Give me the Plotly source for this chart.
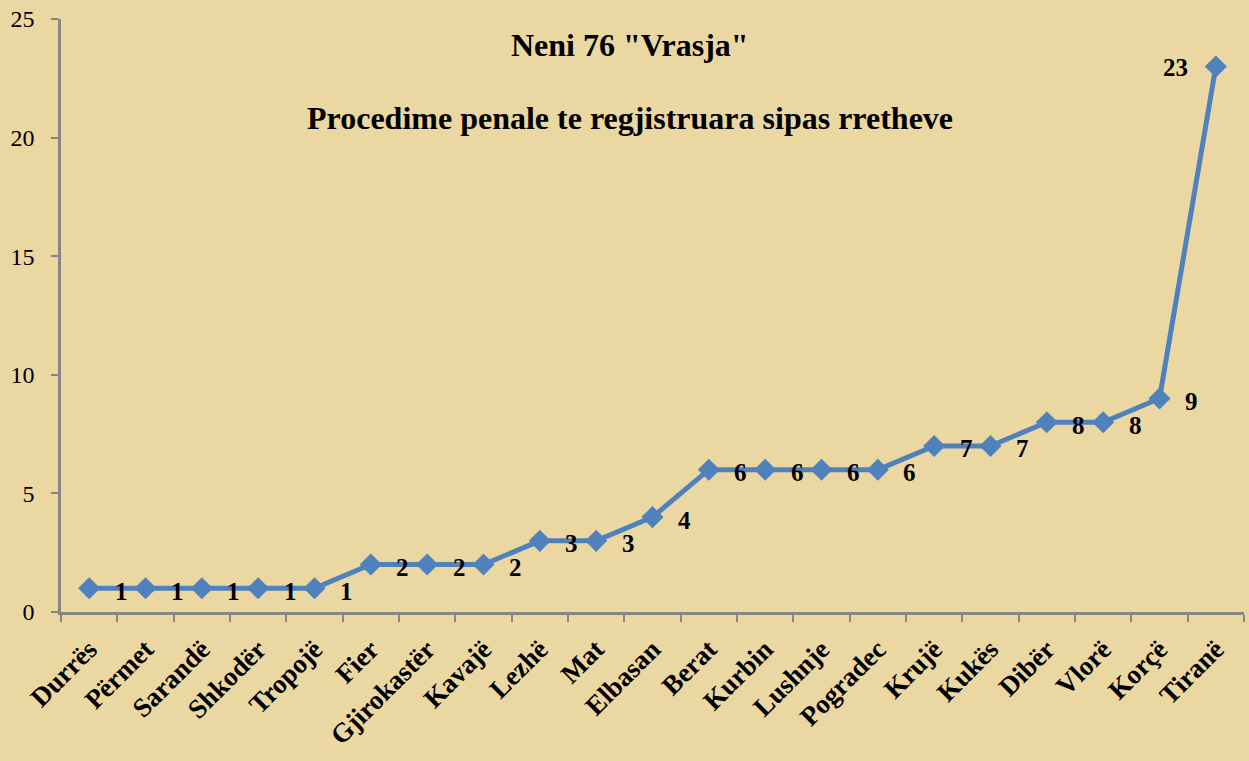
import plotly.graph_objects as go

districts = ["Durrës", "Përmet", "Sarandë", "Shkodër", "Tropojë", "Fier", "Gjirokastër",
             "Kavajë", "Lezhë", "Mat", "Elbasan", "Berat", "Kurbin", "Lushnje", "Pogradec",
             "Krujë", "Kukës", "Dibër", "Vlorë", "Korçë", "Tiranë"]
cases = [1, 1, 1, 1, 1, 2, 2, 2, 3, 3, 4, 6, 6, 6, 6, 7, 7, 8, 8, 9, 23]

title_main = 'Neni 76 "Vrasja"'
title_sub = "Procedime penale te regjistruara sipas rretheve"

blue = "#4F81BD"
axis_grey = "#868686"
bg = "#EBD7A2"
serif = "Liberation Serif, Times New Roman, serif"

fig = go.Figure()
fig.add_trace(go.Scatter(
    x=districts,
    y=cases,
    mode="lines+markers",
    line=dict(color=blue, width=5),
    marker=dict(symbol="diamond", size=17, color=blue),
    showlegend=False,
    hoverinfo="x+y",
))

# data labels: right of the point, except the last one which sits on the left
for i, (d, v) in enumerate(zip(districts, cases)):
    last = i == len(districts) - 1
    fig.add_annotation(
        x=d, y=v, text=f"<b>{v}</b>", showarrow=False,
        xshift=-40 if last else 32, yshift=-1 if last else -3,
        font=dict(family=serif, size=25, color="black"),
    )

# two-line chart title sits inside the plot area
for txt, ypos in [(title_main, 0.956), (title_sub, 0.833)]:
    fig.add_annotation(x=0.481, y=ypos, xref="paper", yref="paper", text=f"<b>{txt}</b>",
                       xanchor="center", yanchor="middle", showarrow=False,
                       font=dict(family=serif, size=32, color="black"))

fig.update_xaxes(
    type="category",
    tickson="boundaries",
    ticks="outside", ticklen=7, tickcolor=axis_grey, tickwidth=2,
    showline=True, linecolor=axis_grey, linewidth=2.5,
    showgrid=False,
    tickangle=-45,
    ticklabelstandoff=8,
    tickfont=dict(family=serif, size=27, color="black", weight="bold"),
    range=[-0.5, len(districts) - 0.5],
)
fig.update_yaxes(
    range=[0, 25], dtick=5,
    ticks="outside", ticklen=7, tickcolor=axis_grey, tickwidth=2,
    showline=True, linecolor=axis_grey, linewidth=2.5,
    showgrid=False, zeroline=False,
    ticklabelstandoff=12,
    tickfont=dict(family=serif, size=24, color="black"),
)

fig.update_layout(
    width=1249, height=761,
    margin=dict(l=61, r=5, t=19, b=149),
    paper_bgcolor=bg,
    plot_bgcolor=bg,
    font=dict(family=serif),
)

fig.write_html("out.html", config={"displayModeBar": False},
               post_script="document.body.style.margin='0';")
